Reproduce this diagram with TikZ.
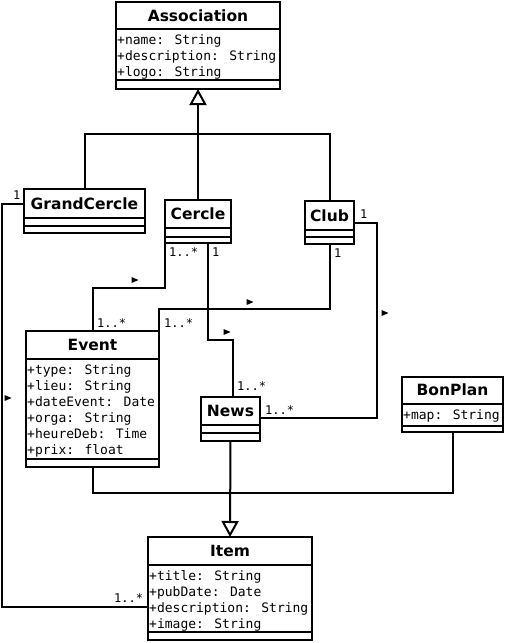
\documentclass[tikz,border=0pt]{standalone}
\usepackage{fontspec}
\setmainfont{DejaVu Sans}
\newfontfamily\monof{DejaVu Sans Mono}
\usetikzlibrary{arrows.meta}
\tikzset{
  box/.style={draw, line width=2pt, inner sep=0pt, outer sep=0pt, anchor=north west},
  ttl/.style={font=\fontsize{15.5}{18}\selectfont\bfseries, anchor=base, inner sep=0pt},
  attr/.style={font=\monof\fontsize{13}{16}\selectfont, anchor=base west, inner sep=0pt},
  mult/.style={font=\monof\fontsize{12}{14}\selectfont, anchor=base west, inner sep=0pt},
  sepline/.style={line width=2pt},
  conn/.style={line width=2pt},
  gen/.style={line width=2pt, -{Triangle[length=16pt, width=17pt, fill=white]}},
}
\begin{document}
\begin{tikzpicture}[x=1pt,y=-1pt]
\useasboundingbox (0,0) rectangle (507,643);
% Association
\node[box, minimum width=164pt, minimum height=87pt] (assoc) at (116,2) {};
\draw[sepline] (116,29) -- (280,29);
\draw[sepline] (116,80) -- (280,80);
\node[ttl] (assocT) at (198,21) {Association};
\node[attr] (assocA1) at (117,44) {+name: String};
\node[attr] (assocA2) at (117,60) {+description: String};
\node[attr] (assocA3) at (117,76) {+logo: String};
% GrandCercle
\node[box, minimum width=121pt, minimum height=44pt] (grand) at (24,189) {};
\draw[sepline] (24,218) -- (145,218);
\draw[sepline] (24,226) -- (145,226);
\node[ttl] (grandT) at (84.5,209) {GrandCercle};
% Cercle
\node[box, minimum width=66pt, minimum height=43pt] (cercle) at (165,200) {};
\draw[sepline] (165,228) -- (231,228);
\draw[sepline] (165,237) -- (231,237);
\node[ttl] (cercleT) at (198,219.5) {Cercle};
% Club
\node[box, minimum width=49pt, minimum height=43pt] (club) at (305,201) {};
\draw[sepline] (305,230) -- (354,230);
\draw[sepline] (305,237) -- (354,237);
\node[ttl] (clubT) at (329.5,221) {Club};
% Event
\node[box, minimum width=133pt, minimum height=136pt] (event) at (26,331) {};
\draw[sepline] (26,359) -- (159,359);
\draw[sepline] (26,459) -- (159,459);
\node[ttl] (eventT) at (92.5,350) {Event};
\node[attr] (eventA1) at (27,374) {+type: String};
\node[attr] (eventA2) at (27,390) {+lieu: String};
\node[attr] (eventA3) at (27,406) {+dateEvent: Date};
\node[attr] (eventA4) at (27,422) {+orga: String};
\node[attr] (eventA5) at (27,438) {+heureDeb: Time};
\node[attr] (eventA6) at (27,454) {+prix: float};
% News
\node[box, minimum width=59pt, minimum height=44pt] (news) at (201,397) {};
\draw[sepline] (201,425) -- (260,425);
\draw[sepline] (201,433) -- (260,433);
\node[ttl] (newsT) at (230.5,416) {News};
% BonPlan
\node[box, minimum width=101pt, minimum height=55pt] (bonplan) at (402,377) {};
\draw[sepline] (402,404) -- (503,404);
\draw[sepline] (402,426) -- (503,426);
\node[ttl] (bonplanT) at (452.5,395) {BonPlan};
\node[attr] (bonplanA1) at (403,419) {+map: String};
% Item
\node[box, minimum width=164pt, minimum height=103pt] (item) at (148,537) {};
\draw[sepline] (148,565) -- (312,565);
\draw[sepline] (148,632) -- (312,632);
\node[ttl] (itemT) at (230,556) {Item};
\node[attr] (itemA1) at (149,580) {+title: String};
\node[attr] (itemA2) at (149,596) {+pubDate: Date};
\node[attr] (itemA3) at (149,612) {+description: String};
\node[attr] (itemA4) at (149,628) {+image: String};
% generalizations
\coordinate (gj) at (198,134);
\draw[conn] (grand.north) |- (gj) -| (club.north);
\draw[gen] (cercle.north) -- (assoc.south);
\coordinate (ij) at (0,493);
\draw[conn] (event.south) |- (ij -| bonplan.south) -- (bonplan.south);
\draw[gen] (news.south) -- (item.north);
% associations
\coordinate (gl) at ([yshift=-15pt]grand.north west);
\coordinate (il) at ([yshift=-70pt]item.north west);
\draw[conn] (gl) -| (2,607) -- (il);
\draw[conn] (cercle.south west) |- (event.north |- 0,288) -- (event.north);
\draw[conn] (club.south) |- (event.north east |- 0,309) -- (event.north east);
\coordinate (cb) at ([xshift=43pt]cercle.south west);
\coordinate (nt) at ([xshift=32pt]news.north west);
\draw[conn] (cb) |- (nt |- 0,340) -- (nt);
\coordinate (cr) at ([yshift=-22pt]club.north east);
\coordinate (nr) at ([yshift=-21pt]news.north east);
\draw[conn] (cr) -- (cr -| 377,0) |- (nr);
% direction markers
\foreach \x/\y in {135/280, 250/302, 227/332, 385/313, 8/398}
  \fill (\x-3.5,\y-3) -- (\x+3.5,\y) -- (\x-3.5,\y+3) -- cycle;
% multiplicities
\node[mult] (m1) at (13,199) {1};
\node[mult] (m2) at (169,256) {1..*};
\node[mult] (m3) at (212,256) {1};
\node[mult] (m4) at (360,218) {1};
\node[mult] (m5) at (334,257) {1};
\node[mult] (m6) at (97,327) {1..*};
\node[mult] (m7) at (164,327) {1..*};
\node[mult] (m8) at (237,390) {1..*};
\node[mult] (m9) at (265,414) {1..*};
\node[mult] (m10) at (114,602) {1..*};
\end{tikzpicture}
\end{document}
